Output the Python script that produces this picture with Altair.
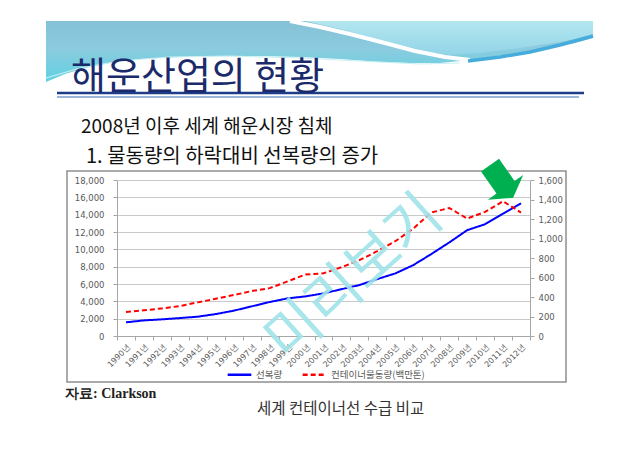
import altair as alt
import pandas as pd

# ---- chart data ----
years = ["1990년", "1991년", "1992년", "1993년", "1994년", "1995년", "1996년", "1997년",
         "1998년", "1999년", "2000년", "2001년", "2002년", "2003년", "2004년", "2005년",
         "2006년", "2007년", "2008년", "2009년", "2010년", "2011년", "2012년"]
fleet = [1580, 1800, 1920, 2070, 2230, 2530, 2920, 3420, 3920, 4340, 4570, 4920,
         5400, 5880, 6570, 7220, 8180, 9450, 10790, 12210, 12900, 14130, 15300]
cargo = [246, 263, 283, 307, 345, 382, 420, 461, 491, 560, 631, 643,
         705, 778, 870, 972, 1102, 1266, 1313, 1205, 1273, 1382, 1266]
series_names = ["선복량", "컨테이너물동량(백만톤)"]
left_ticks = [0, 2000, 4000, 6000, 8000, 10000, 12000, 14000, 16000, 18000]
right_ticks = [0, 200, 400, 600, 800, 1000, 1200, 1400, 1600]

title_text = "해운산업의 현황"
line1_text = "2008년 이후 세계 해운시장 침체"
line2_text = "1. 물동량의 하락대비 선복량의 증가"
source_text = "자료:  Clarkson"
caption_text = "세계 컨테이너선 수급 비교"
watermark_text = "미리보기"

# ---- layout helpers (page pixels -> plot coordinates) ----
PX0, PY0 = 117, 180
W, H = 413, 156


def px(x):
    return x - PX0


def py(y):
    return y - PY0


one = pd.DataFrame({"d": [0]})

# header decoration shapes as custom symbol paths
HCX, HCY, HU = 319.5, 51.5, 273.5
HSIZE = (2 * HU) ** 2


def hpath(points, close=True):
    s = "M" + " L".join(f"{(x - HCX) / HU:.4f},{(y - HCY) / HU:.4f}" for x, y in points)
    return s + (" Z" if close else "")


base_pts = [(46, 21), (593, 21), (593, 38), (575, 43), (550, 48), (520, 53), (497, 56),
            (470, 60), (440, 63), (410, 63), (380, 62), (340, 59), (300, 57), (260, 56),
            (220, 56), (180, 57), (140, 59), (110, 63), (85, 68), (65, 74), (46, 82)]
light_pts = [(305, 21), (593, 21), (593, 36), (560, 42), (520, 48), (480, 53), (450, 55),
             (430, 52), (400, 45), (370, 37), (340, 29)]
swoosh_pts = [(290, 21), (320, 27), (350, 34), (385, 43), (415, 51), (445, 57), (470, 60)]
band_pts = [(468, 61), (500, 57), (530, 52), (560, 45), (593, 36)]
thin_pts = [(46, 78), (80, 68), (120, 61), (170, 57), (230, 56), (300, 58), (360, 61), (420, 64), (460, 63)]


def header_symbol(points, close=True, **kw):
    return alt.Chart(one).mark_point(shape=hpath(points, close), size=HSIZE, opacity=1, **kw).encode(
        x=alt.value(px(HCX)), y=alt.value(py(HCY)))


header_base = header_symbol(
    base_pts, filled=True, strokeWidth=0,
    fill=alt.Gradient(gradient="linear", x1=0, x2=0, y1=0, y2=1,
                      stops=[alt.GradientStop(color="#84c1d6", offset=0),
                             alt.GradientStop(color="#8ccbdf", offset=0.45),
                             alt.GradientStop(color="#5fd2e2", offset=1)]))
header_light = header_symbol(
    light_pts, filled=True, strokeWidth=0,
    fill=alt.Gradient(gradient="linear", x1=0, x2=0, y1=0, y2=1,
                      stops=[alt.GradientStop(color="#b3e7ef", offset=0),
                             alt.GradientStop(color="#93d4e8", offset=1)]))
header_swoosh = header_symbol(swoosh_pts, close=False, filled=False, stroke="white", strokeWidth=4)
header_band = header_symbol(band_pts, close=False, filled=False, stroke="#45acdc", strokeWidth=3.5)
header_thin = header_symbol(thin_pts, close=False, filled=False, stroke="#c9f0f2", strokeWidth=1.2)

rule_thick = alt.Chart(one).mark_rule(color="#1f3c88", strokeWidth=2.5).encode(
    x=alt.value(px(57)), x2=alt.value(px(584)), y=alt.value(py(93)))
rule_thin = alt.Chart(one).mark_rule(color="#3d6db5", strokeWidth=1).encode(
    x=alt.value(px(57)), x2=alt.value(px(579)), y=alt.value(py(97)))


def text_layer(txt, x, y, size, color, font="Noto Sans CJK KR", align="left",
               baseline="alphabetic", **kw):
    return alt.Chart(one).mark_text(text=txt, align=align, baseline=baseline, font=font,
                                    fontSize=size, color=color, **kw).encode(
        x=alt.value(px(x)), y=alt.value(py(y)))


title = text_layer(title_text, 71, 89, 38, "#1b2a6b")
line1 = text_layer(line1_text, 81, 133, 19, "#111111")
line2 = text_layer(line2_text, 86, 163, 20, "#111111")
source = text_layer(source_text, 65, 398, 14, "#222222", font="Liberation Serif", fontWeight="bold")
caption = text_layer(caption_text, 257, 414, 15.5, "#333333")

box = alt.Chart(one).mark_rect(filled=False, stroke="#8f8f8f", strokeWidth=1.5).encode(
    x=alt.value(px(67)), x2=alt.value(px(566)), y=alt.value(py(171)), y2=alt.value(py(382)))

# ---- the data chart ----
df_fleet = pd.DataFrame({"year": years, "value": fleet, "series": series_names[0]})
df_cargo = pd.DataFrame({"year": years, "value": cargo, "series": series_names[1]})

x_enc = alt.X("year:O", title=None, bandPosition=0.5,
              scale=alt.Scale(type="band", paddingInner=0, paddingOuter=0),
              axis=alt.Axis(labelAngle=315, tickBand="extent", labelFontSize=8,
                            labelPadding=3, tickSize=4, grid=False))

legend_cfg = dict(title=None, orient="none", legendX=px(226), legendY=py(361),
                  direction="horizontal", symbolType="stroke", symbolSize=560,
                  symbolStrokeWidth=2.5, labelFontSize=9.5, labelColor="#595959",
                  columnPadding=14, labelOffset=3, labelFont="Noto Sans CJK KR")

color_enc = alt.Color("series:N", scale=alt.Scale(domain=series_names, range=["#0000ff", "#ff0000"]),
                      legend=alt.Legend(**legend_cfg))
dash_enc = alt.StrokeDash("series:N", scale=alt.Scale(domain=series_names, range=[[1, 0], [5, 3]]),
                          legend=alt.Legend(**legend_cfg))

blue = alt.Chart(df_fleet).mark_line(strokeWidth=2).encode(
    x=x_enc,
    y=alt.Y("value:Q", title=None, scale=alt.Scale(domain=[0, 18000], nice=False),
            axis=alt.Axis(values=left_ticks, format=",.0f", orient="left", grid=True,
                          tickSize=4, labelPadding=9)),
    color=color_enc, strokeDash=dash_enc)

red = alt.Chart(df_cargo).mark_line(strokeWidth=2).encode(
    x=x_enc,
    y=alt.Y("value:Q", title=None, scale=alt.Scale(domain=[0, 1600], nice=False),
            axis=alt.Axis(values=right_ticks, format=",.0f", orient="right", grid=False,
                          tickSize=4, labelPadding=4)),
    color=color_enc, strokeDash=dash_enc)

watermark = alt.Chart(one).mark_text(text=watermark_text, angle=318, fontSize=58,
                                     font="Noto Sans CJK KR", color="#9fe4ea", opacity=0.9,
                                     align="center", baseline="middle").encode(
    x=alt.value(px(355)), y=alt.value(py(279)))

arrow_path = ("M-0.5,-0.91 L0.5,-0.91 L0.5,0.32 L0.98,0.32 L0,0.91 "
              "L-0.98,0.32 L-0.5,0.32 Z")
arrow = alt.Chart(one).mark_point(shape=arrow_path, size=44 * 44, filled=True, opacity=1,
                                  fill="#00b050", strokeWidth=0, angle=325).encode(
    x=alt.value(px(501.5)), y=alt.value(py(181.5)))

chart = alt.layer(
    header_base, header_light, header_thin, header_swoosh, header_band,
    rule_thick, rule_thin, title, line1, line2,
    box, blue, red, watermark, arrow, source, caption
).resolve_scale(y="independent").properties(
    width=W, height=H,
    autosize=alt.AutoSizeParams(type="none"),
    padding={"left": 109, "top": 172, "right": 102, "bottom": 108},
    background="white",
).configure_view(stroke=None).configure_axis(
    labelFont="DejaVu Sans", labelFontSize=8.5, labelColor="#595959",
    domainColor="#a6a6a6", tickColor="#a6a6a6", gridColor="#c9c9c9"
)

chart.save("out.html", embed_options={"renderer": "svg", "actions": False})
